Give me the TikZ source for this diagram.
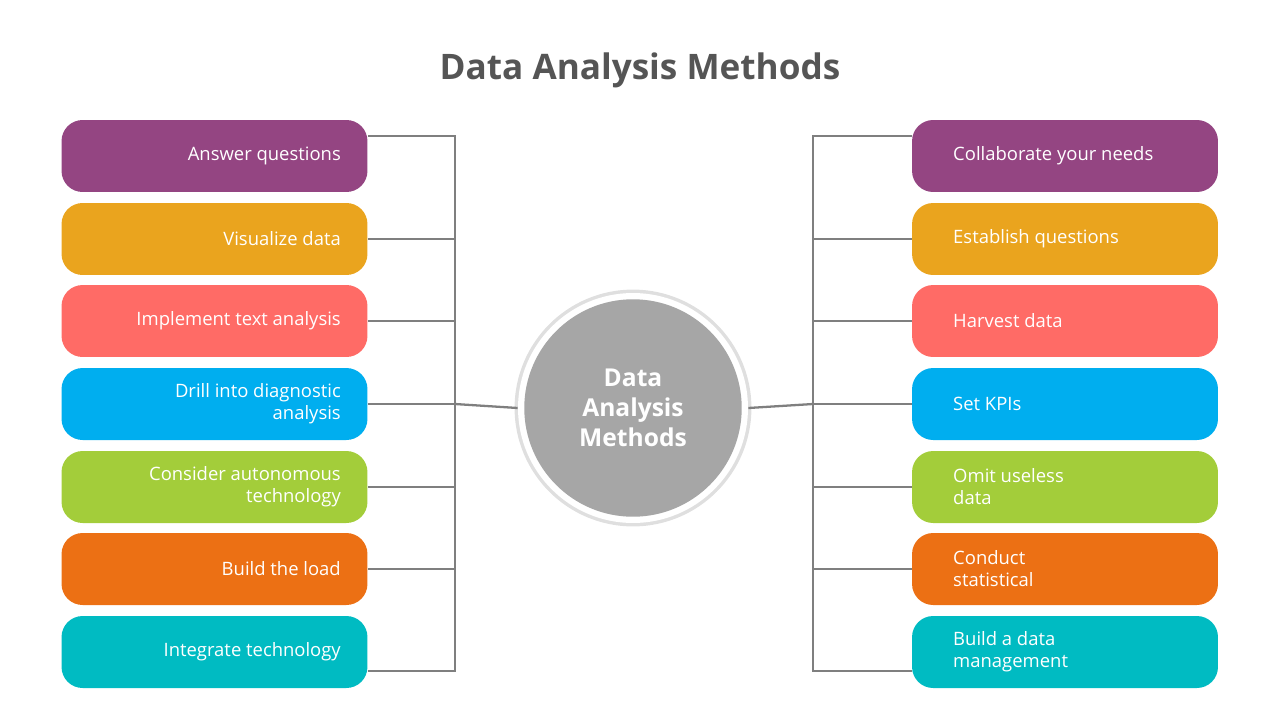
\documentclass[tikz,border=0pt]{standalone}
\usepackage{fontspec}
\setmainfont{Open Sans}
\usetikzlibrary{shadows}
\definecolor{cA}{HTML}{944582}
\definecolor{cB}{HTML}{EAA41E}
\definecolor{cC}{HTML}{FF6B66}
\definecolor{cD}{HTML}{00AEEF}
\definecolor{cE}{HTML}{A3CD3A}
\definecolor{cF}{HTML}{EC7014}
\definecolor{cG}{HTML}{00BBC2}
\definecolor{ln}{HTML}{7F7F7F}
\definecolor{tt}{HTML}{555555}
\tikzset{x=0.02cm,y=-0.02cm,
 box/.style={fill=#1,rounded corners=12pt,minimum width=6.12cm,minimum height=1.44cm,inner sep=0pt},
 lt/.style={text=white,font=\fontsize{10.5}{12.5}\selectfont,align=right,anchor=east},
 rt/.style={text=white,font=\fontsize{10.5}{12.5}\selectfont,align=left,anchor=west},
 con/.style={draw=ln,line width=1.3pt}}
\begin{document}
\begin{tikzpicture}
\useasboundingbox (0,0) rectangle (1280,720);
\node[text=tt,font=\fontsize{20}{24}\bfseries\selectfont] (title) at (640,70) {Data Analysis Methods};
% left
\foreach \n/\y/\c/\t in {L1/156/cA/Answer questions,L2/239/cB/Visualize data,L3/321/cC/Implement text analysis,L4/404/cD/{Drill into diagnostic\\analysis},L5/487/cE/{Consider autonomous\\technology},L6/569/cF/Build the load,L7/652/cG/Integrate technology}{
 \node[box=\c] (\n) at (214.5,\y) {};
 \node[lt] (\n t) at (347,\y) {\t};
}
\foreach \n/\y/\c/\t in {R1/156/cA/Collaborate your needs,R2/239/cB/Establish questions,R3/321/cC/Harvest data,R4/404/cD/Set KPIs,R5/487/cE/{Omit useless\\data},R6/569/cF/{Conduct\\statistical},R7/652/cG/{Build a data\\management}}{
 \node[box=\c] (\n) at (1065,\y) {};
 \node[rt] (\n t) at (947,\y) {\t};
}
% circle
\node[circle,fill=white,minimum size=4.6cm,drop shadow={opacity=0.25,shadow xshift=0pt,shadow yshift=0pt,shadow scale=1.03}] (c) at (633,408) {};
\node[circle,fill=black!35,minimum size=4.35cm,text=white,align=center,font=\fontsize{14}{17}\bfseries\selectfont] (ci) at (633,408) {Data\\Analysis\\Methods};
% left connectors
\coordinate (lt) at (455,136); \coordinate (lb) at (455,671);
\draw[con] (L1.east |- lt) -- (lt) -- (lb) -- (L7.east |- lb);
\foreach \n in {L2,L3,L4,L5,L6}{\draw[con] (\n.east) -- (\n.east -| lt);}
\draw[con] (455,404) -- (c.west);
% right
\coordinate (rt) at (813,136); \coordinate (rb) at (813,671);
\draw[con] (R1.west |- rt) -- (rt) -- (rb) -- (R7.west |- rb);
\foreach \n in {R2,R3,R4,R5,R6}{\draw[con] (\n.west) -- (\n.west -| rt);}
\draw[con] (813,404) -- (c.east);
\end{tikzpicture}
\end{document}
